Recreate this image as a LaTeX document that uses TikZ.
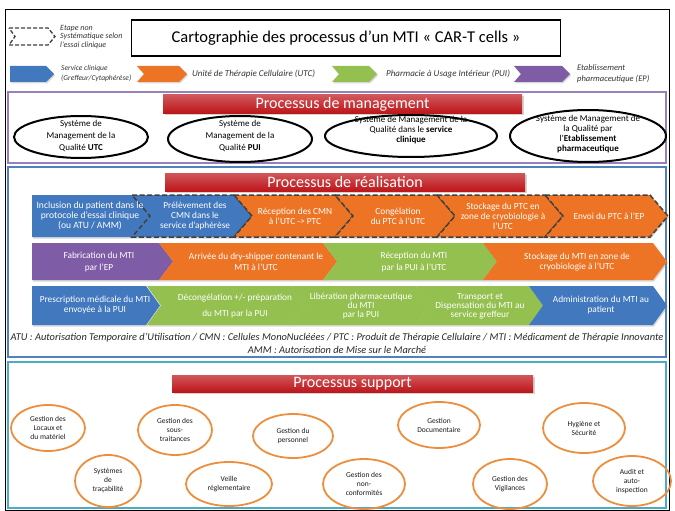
\documentclass[tikz,border=0pt]{standalone}
\usepackage{fontspec}
\setmainfont{Carlito}
\usetikzlibrary{shadows}

\definecolor{cliblue}{RGB}{65,120,190}
\definecolor{utcorange}{RGB}{236,116,36}
\definecolor{puigreen}{RGB}{147,192,78}
\definecolor{eppurple}{RGB}{127,93,166}
\definecolor{barred}{RGB}{190,22,26}
\definecolor{mgmtframe}{RGB}{150,130,185}
\definecolor{realframe}{RGB}{79,129,189}
\definecolor{suppframe}{RGB}{75,172,198}
\definecolor{ringorange}{RGB}{236,142,62}
\definecolor{dashgray}{RGB}{64,64,64}

% chevron: [style] left x, right x, top y, bottom y, notch, tip
\newcommand{\chev}[7][]{%
  \path[#1] (#2,#4) -- ({#3-#7},#4) -- (#3,{(#4+#5)/2}) -- ({#3-#7},#5)
    -- (#2,#5) -- ({#2+#6},{(#4+#5)/2}) -- cycle;}

\tikzset{
  stepshade/.style={drop shadow={shadow xshift=1pt,shadow yshift=-1.5pt,opacity=0.3}},
  cliblock/.style={fill=cliblue,stepshade},
  utcblock/.style={fill=utcorange,stepshade},
  puiblock/.style={fill=puigreen,stepshade},
  epblock/.style={fill=eppurple,stepshade},
  optdash/.style={draw=dashgray,line width=1.5pt,dash pattern=on 5pt off 2.5pt},
  steptext/.style={text=white,align=center,inner sep=0pt,font=\fontsize{9.3}{10}\selectfont},
  redbar/.style={top color=barred!72!white,bottom color=barred,minimum height=18pt,
    text=white,inner sep=0pt,font=\fontsize{16}{18}\selectfont,
    drop shadow={shadow xshift=1.5pt,shadow yshift=-1.5pt,opacity=0.35}},
  mgmtring/.style={draw=black,line width=2pt},
  mgmttext/.style={align=center,inner sep=0pt,font=\fontsize{9}{12}\selectfont},
  suppring/.style={draw=ringorange,line width=1.8pt},
  supptext/.style={align=center,inner sep=0pt,text=black!90,font=\fontsize{7.5}{9}\selectfont},
  legtext/.style={anchor=west,align=left,inner sep=0pt,text=black!80,font=\fontsize{8.5}{10}\selectfont\itshape},
}

\begin{document}
\begin{tikzpicture}[x=1pt,y=-1pt]
\useasboundingbox (0,0) rectangle (675,511);

% frames
\draw[black,line width=1pt] (5,10) rectangle (669,510);
\draw[mgmtframe,line width=2pt] (8,92) rectangle (666,163);
\draw[realframe,line width=2pt] (8,167) rectangle (666,357);
\draw[suppframe,line width=2.5pt] (8,362) rectangle (666,508);

% header
\chev[fill=white,optdash,dash pattern=on 4pt off 2pt,line width=1.3pt]{9}{55}{28}{45}{6}{7}
\node[legtext,font=\fontsize{8}{8.5}\selectfont\itshape] (legopt) at (60,37) {Etape non\\Systématique selon\\l’essai clinique};
\node[draw,line width=1.3pt,minimum width=429pt,minimum height=36pt,
  font=\fontsize{16.5}{18}\selectfont] (titre) at (346,38) {Cartographie des processus d’un MTI « CAR-T cells »};

\chev[cliblock]{10}{54}{66}{82}{0}{8}
\node[legtext,font=\fontsize{7.5}{10}\selectfont\itshape] (legcli) at (61,74) {Service clinique\\(Greffeur/Cytaphérèse)};
\chev[utcblock]{137}{187}{66}{82}{7}{8}
\node[legtext,font=\fontsize{9}{10}\selectfont\itshape] (legutc) at (192,74) {Unité de Thérapie Cellulaire (UTC)};
\chev[puiblock]{332}{377}{66}{82}{7}{8}
\node[legtext,font=\fontsize{9}{10}\selectfont\itshape] (legpui) at (386,74) {Pharmacie à Usage Intérieur (PUI)};
\chev[epblock]{514}{570}{66}{82}{7}{8}
\node[legtext,font=\fontsize{8.5}{11}\selectfont\itshape] (legep) at (577,74) {Etablissement\\pharmaceutique (EP)};

% management
\node[redbar,minimum width=359pt] (mgmt) at (342.5,104) {Processus de management};
\draw[mgmtring] (81,137) ellipse [x radius=67,y radius=21];
\node[mgmttext] (smqutc) at (81,136) {Système de\\Management de la\\Qualité \textbf{UTC}};
\draw[mgmtring] (240,139) ellipse [x radius=72,y radius=23];
\node[mgmttext] (smqpui) at (240,136) {Système de\\Management de la\\Qualité \textbf{PUI}};
\draw[mgmtring] (411,136) ellipse [x radius=86,y radius=21];
\node[mgmttext,font=\fontsize{9}{10}\selectfont] (smqsc) at (411,130) {Système de Management de la\\Qualité dans le \textbf{service}\\\textbf{clinique}};
\draw[mgmtring] (588,136) ellipse [x radius=78,y radius=26];
\node[mgmttext,font=\fontsize{9}{9.8}\selectfont] (smqep) at (588,134) {Système de Management de\\la Qualité par\\l’\textbf{Etablissement}\\\textbf{pharmaceutique}};

% realisation
\node[redbar,minimum width=360pt] (real) at (345,182) {Processus de réalisation};

\chev[cliblock]{32}{150}{195}{237}{0}{18}
\chev[cliblock,optdash]{132}{252}{195}{237}{18}{18}
\chev[utcblock,optdash]{234}{353}{195}{237}{18}{18}
\chev[utcblock,optdash]{335}{455}{195}{237}{18}{18}
\chev[utcblock,optdash]{437}{563}{195}{237}{18}{18}
\chev[utcblock,optdash]{545}{668}{195}{237}{18}{18}
\node[steptext,font=\fontsize{9.6}{10}\selectfont] (inclusion) at (90,216) {Inclusion du patient dans le\\protocole d’essai clinique\\(ou ATU / AMM)};
\node[steptext] (prelev) at (195,216) {Prélèvement des\\CMN dans le\\service d’aphérèse};
\node[steptext] (recepcmn) at (295,216) {Réception des CMN\\à l’UTC -> PTC};
\node[steptext] (congel) at (398,216) {Congélation\\du PTC à l’UTC};
\node[steptext] (stockptc) at (503,216) {Stockage du PTC en\\zone de cryobiologie à\\l’UTC};
\node[steptext] (envoi) at (609,216) {Envoi du PTC à l’EP};

\chev[epblock]{32}{173}{243}{280}{0}{14}
\chev[utcblock]{159}{337}{243}{280}{14}{14}
\chev[puiblock]{323}{497}{243}{280}{14}{14}
\chev[utcblock]{483}{667}{243}{280}{14}{14}
\node[steptext,font=\fontsize{9.3}{11.5}\selectfont] (fabric) at (99,262) {Fabrication du MTI\\par l’EP};
\node[steptext,font=\fontsize{9.3}{10.5}\selectfont] (arrivee) at (256,262) {Arrivée du dry-shipper contenant le\\MTI à l’UTC};
\node[steptext,font=\fontsize{9.3}{12}\selectfont] (recepmti) at (414,262) {Réception du MTI\\par la PUI à l’UTC};
\node[steptext,font=\fontsize{9.3}{10.5}\selectfont] (stockmti) at (577,262) {Stockage du MTI en zone de\\cryobiologie à l’UTC};

\chev[cliblock]{32}{160}{286}{325}{0}{14}
\chev[puiblock]{147}{305}{286}{325}{14}{14}
\chev[puiblock]{291}{430}{286}{325}{14}{14}
\chev[puiblock]{416}{543}{286}{325}{14}{14}
\chev[cliblock]{529}{667}{286}{325}{14}{14}
\node[steptext] (prescr) at (95,305) {Prescription médicale du MTI\\envoyée à la PUI};
\node[steptext,font=\fontsize{9.3}{16}\selectfont] (decongel) at (235,306) {Décongélation +/- préparation\\du MTI par la PUI};
\node[steptext,font=\fontsize{9.3}{9}\selectfont] (liberation) at (361,306) {Libération pharmaceutique\\du MTI\\par la PUI};
\node[steptext,font=\fontsize{9.3}{9}\selectfont] (transport) at (480,306) {Transport et\\Dispensation du MTI au\\service greffeur};
\node[steptext] (admin) at (601,305) {Administration du MTI au\\patient};

\node[align=center,inner sep=0pt,text=black!85,font=\fontsize{10.4}{13}\selectfont\itshape] (sigles) at (337,343)
  {ATU : Autorisation Temporaire d’Utilisation / CMN : Cellules MonoNucléées / PTC : Produit de Thérapie Cellulaire / MTI : Médicament de Thérapie Innovante\\
   AMM : Autorisation de Mise sur le Marché};

% support
\node[redbar,minimum width=361pt,minimum height=17pt] (supp) at (352.5,383.5) {Processus support};
\draw[suppring] (48,428) ellipse [x radius=37,y radius=23];
\node[supptext] (locaux) at (48,428) {Gestion des\\Locaux et\\du matériel};
\draw[suppring] (175,430) ellipse [x radius=37,y radius=25];
\node[supptext] (soustrait) at (175,430) {Gestion des\\sous-\\traitances};
\draw[suppring] (293,436) ellipse [x radius=40,y radius=22];
\node[supptext] (personnel) at (293,436) {Gestion du\\personnel};
\draw[suppring] (439,425) ellipse [x radius=41,y radius=23];
\node[supptext] (documentaire) at (439,425) {Gestion\\Documentaire};
\draw[suppring] (584,428) ellipse [x radius=41,y radius=25];
\node[supptext] (hygiene) at (584,428) {Hygiène et\\Sécurité};
\draw[suppring] (108,481) ellipse [x radius=33,y radius=26];
\node[supptext] (tracabilite) at (108,481) {Systèmes\\de\\traçabilité};
\draw[suppring] (229,484) ellipse [x radius=43,y radius=22];
\node[supptext] (veille) at (229,484) {Veille\\réglementaire};
\draw[suppring] (364,484) ellipse [x radius=41,y radius=25];
\node[supptext] (nonconf) at (364,484) {Gestion des\\non-\\conformités};
\draw[suppring] (510,484) ellipse [x radius=37,y radius=25];
\node[supptext] (vigilances) at (510,484) {Gestion des\\Vigilances};
\draw[suppring] (632,481) ellipse [x radius=39,y radius=25];
\node[supptext] (audit) at (632,481) {Audit et\\auto-\\inspection};
\end{tikzpicture}
\end{document}
